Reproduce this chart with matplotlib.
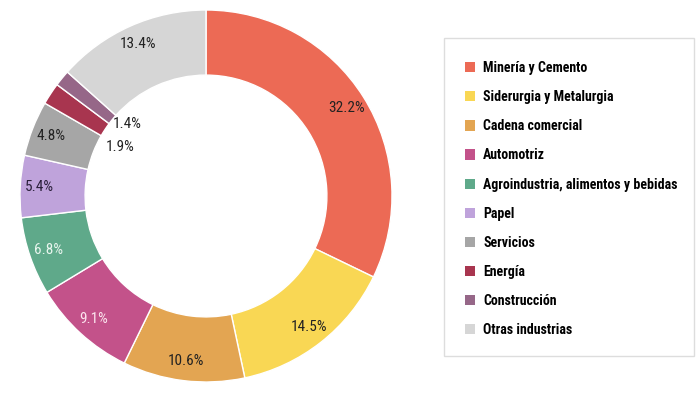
import numpy as np
import matplotlib
matplotlib.use("Agg")
import matplotlib.pyplot as plt
from matplotlib.patches import Rectangle, Patch

plt.rcParams['font.family'] = ['Roboto Condensed', 'Roboto', 'DejaVu Sans']

# Data
sectors = ["Minería y Cemento", "Siderurgia y Metalurgia", "Cadena comercial",
           "Automotriz", "Agroindustria, alimentos y bebidas", "Papel",
           "Servicios", "Energía", "Construcción", "Otras industrias"]
shares = [32.2, 14.5, 10.6, 9.1, 6.8, 5.4, 4.8, 1.9, 1.4, 13.4]
colors = ["#EC6A55", "#F9D754", "#E3A552", "#C3528A", "#5FA98A",
          "#BFA3DB", "#A6A6A6", "#A8354F", "#966788", "#D6D6D6"]
label_colors = ["#222222", "#222222", "#222222", "#FCE4EE", "#EAF6EF",
                "#2A1F3A", "#222222", "#222222", "#222222", "#222222"]
inside = [False] * 7 + [True, True, False]

fig = plt.figure(figsize=(7, 3.96), dpi=100)
ax = fig.add_axes([20 / 700, 14 / 396, 372 / 700, 372 / 396])

wedges, _ = ax.pie(shares, colors=colors, startangle=90, counterclock=False,
                   radius=1, wedgeprops=dict(width=0.35, edgecolor="white", linewidth=1))
ax.set_xlim(-1, 1)
ax.set_ylim(-1, 1)
ax.set_aspect("equal")
ax.axis("off")

# Percentage labels (the two small slices are labelled inside the hole)
for i, (w, val, tc, ins) in enumerate(zip(wedges, shares, label_colors, inside)):
    ang = np.deg2rad((w.theta1 + w.theta2) / 2)
    r = 0.55 if ins else 0.895
    va = "center"
    if ins:
        va = "top" if sectors[i] == "Energía" else "bottom"
    ax.text(r * np.cos(ang), r * np.sin(ang), f"{val}%", ha="center", va=va,
            fontsize=11, color=tc)

# Legend box
fig.add_artist(Rectangle((444 / 700, 1 - 356 / 396), 250 / 700, 318 / 396,
                         transform=fig.transFigure, facecolor="white",
                         edgecolor="#DDDDDD", linewidth=1))
handles = [Patch(facecolor=c, edgecolor="none") for c in colors]
fig.legend(handles, sectors, loc="upper left", bbox_to_anchor=(465 / 700, 1 - 61 / 396),
           frameon=False, prop=dict(weight="bold", size=10),
           handlelength=0.75, handleheight=0.75, handletextpad=0.55,
           labelspacing=1.09, borderpad=0, borderaxespad=0)

fig.savefig("out.png", dpi=100)
